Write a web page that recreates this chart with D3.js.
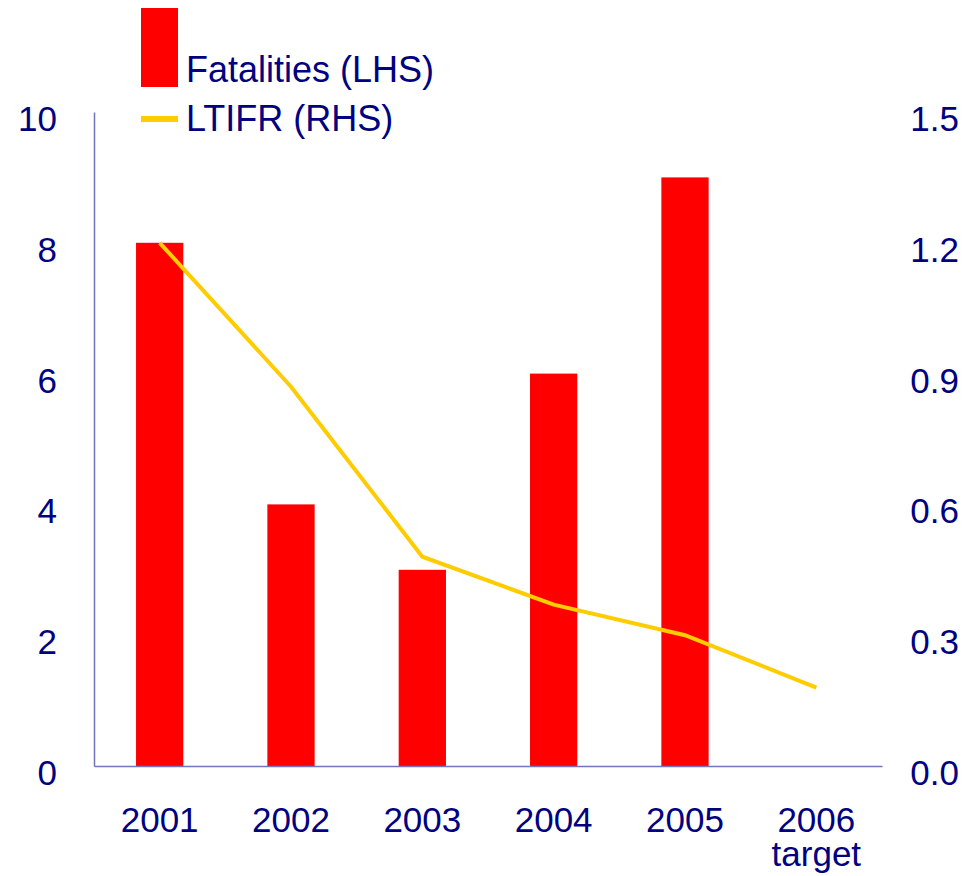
<!DOCTYPE html>
<html>
<head>
<meta charset="utf-8">
<script src="https://cdn.jsdelivr.net/npm/d3@7"></script>
<style>
  body { margin: 0; background: #fff; }
  text { font-family: "Liberation Sans", Arial, sans-serif; fill: #000080; }
</style>
</head>
<body>
<div class="chart"></div>
<script>
// Data
var years = ["2001", "2002", "2003", "2004", "2005", "2006"];
var yearSub = ["", "", "", "", "", "target"];
var fatalities = [8, 4, 3, 6, 9, null];
var ltifr = [1.2, 0.87, 0.48, 0.37, 0.30, 0.18];
var leftTicks = [0, 2, 4, 6, 8, 10];
var rightTicks = [0.0, 0.3, 0.6, 0.9, 1.2, 1.5];

var svgWidth = 973, svgHeight = 876;
var plot = { left: 94, right: 882, top: 112, bottom: 766 };

var svg = d3.select(".chart").append("svg")
    .attr("width", svgWidth)
    .attr("height", svgHeight);

// Scales
var xScale = d3.scaleBand()
    .domain(years)
    .range([plot.left, plot.right])
    .paddingInner(0.64)
    .paddingOuter(0.32);
var yLeft = d3.scaleLinear().domain([0, 10]).range([plot.bottom, plot.top]);
var yRight = d3.scaleLinear().domain([0, 1.5]).range([plot.bottom, plot.top]);
var center = d => xScale(d) + xScale.bandwidth() / 2;

// Bars
svg.append("g").selectAll("rect")
    .data(years.map((y, i) => ({ year: y, v: fatalities[i] })).filter(d => d.v != null))
    .enter().append("rect")
    .attr("x", d => xScale(d.year))
    .attr("width", xScale.bandwidth())
    .attr("y", d => yLeft(d.v))
    .attr("height", d => yLeft(0) - yLeft(d.v))
    .attr("fill", "#ff0000");

// Axes lines (left + bottom only)
var axisColor = "#7474bb";
var leftAxis = d3.axisLeft(yLeft).tickValues(leftTicks).tickSize(0).tickFormat("");
svg.append("g")
    .attr("transform", `translate(${plot.left},0)`)
    .call(leftAxis)
    .call(g => g.select(".domain").attr("stroke", axisColor).attr("stroke-width", 1.5));
var bottomAxis = d3.axisBottom(xScale).tickSize(0).tickFormat("");
svg.append("g")
    .attr("transform", `translate(0,${plot.bottom})`)
    .call(bottomAxis)
    .call(g => g.select(".domain").attr("stroke", axisColor).attr("stroke-width", 1.5));

// Tick labels
svg.append("g").selectAll("text")
    .data(leftTicks)
    .enter().append("text")
    .attr("x", 57)
    .attr("y", d => yLeft(d) + 19)
    .attr("text-anchor", "end")
    .style("font-size", "35px")
    .text(d => d);
svg.append("g").selectAll("text")
    .data(rightTicks)
    .enter().append("text")
    .attr("x", 959)
    .attr("y", d => yRight(d) + 19)
    .attr("text-anchor", "end")
    .style("font-size", "35px")
    .text(d => d3.format(".1f")(d));
var xLabels = svg.append("g").selectAll("text")
    .data(years.map((y, i) => ({ year: y, sub: yearSub[i] })))
    .enter().append("text")
    .attr("text-anchor", "middle")
    .style("font-size", "35px");
xLabels.append("tspan")
    .attr("x", d => center(d.year))
    .attr("y", 832)
    .text(d => d.year);
xLabels.filter(d => d.sub).append("tspan")
    .attr("x", d => center(d.year))
    .attr("y", 866)
    .text(d => d.sub);

// LTIFR line
var line = d3.line()
    .x((d, i) => center(years[i]))
    .y(d => yRight(d));
svg.append("path")
    .datum(ltifr)
    .attr("d", line)
    .attr("fill", "none")
    .attr("stroke", "#ffcc00")
    .attr("stroke-width", 4);

// Legend
var legend = svg.append("g");
legend.append("rect")
    .attr("x", 141).attr("y", 8)
    .attr("width", 37).attr("height", 79)
    .attr("fill", "#ff0000");
legend.append("line")
    .attr("x1", 141).attr("x2", 178)
    .attr("y1", 119).attr("y2", 119)
    .attr("stroke", "#ffcc00")
    .attr("stroke-width", 6);
legend.append("text")
    .attr("x", 186).attr("y", 82)
    .style("font-size", "36px")
    .text("Fatalities (LHS)");
legend.append("text")
    .attr("x", 186).attr("y", 131)
    .style("font-size", "36px")
    .text("LTIFR (RHS)");
</script>
</body>
</html>
